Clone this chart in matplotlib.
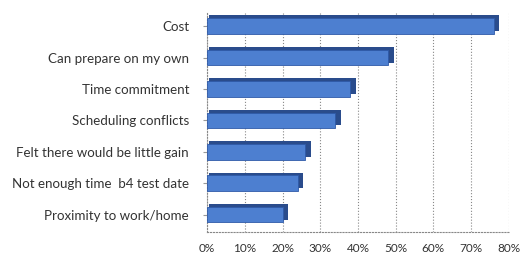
import matplotlib.pyplot as plt
from matplotlib.ticker import PercentFormatter

categories = ['Proximity to work/home', 'Not enough time  b4 test date',
              'Felt there would be little gain', 'Scheduling conflicts',
              'Time commitment', 'Can prepare on my own', 'Cost']
values = [20, 24, 26, 34, 38, 48, 76]
ticks = [0, 10, 20, 30, 40, 50, 60, 70, 80]

plt.rcParams['font.family'] = ['Lato', 'DejaVu Sans']

fig = plt.figure(figsize=(5.23, 2.6), dpi=100)
ax = fig.add_axes([0.396, 0.108, 0.577, 0.846])

ypos = list(range(len(categories)))
# darker side/top face to fake the 3D look
ax.barh([y + 0.09 for y in ypos], [v + 0.9 for v in values], height=0.5,
        left=0.6, color='#2a4c8c', zorder=2)
ax.barh(ypos, values, height=0.5, color='#4d7fd0', edgecolor='#2f5aa8',
        linewidth=0.6, zorder=3)

ax.set_xlim(0, 80)
ax.set_ylim(-0.55, 6.45)
ax.set_xticks(ticks)
ax.xaxis.set_major_formatter(PercentFormatter(decimals=0))
ax.set_yticks(ypos)
ax.set_yticklabels(categories, fontsize=9.6, color='#333333')
ax.tick_params(axis='x', labelsize=8.5, colors='#333333', length=0, pad=8)
ax.tick_params(axis='y', length=3, color='#999999', pad=10)

ax.grid(axis='x', linestyle=':', color='#888888', linewidth=0.8, zorder=0)
for s in ['top', 'right']:
    ax.spines[s].set_visible(False)
for s in ['left', 'bottom']:
    ax.spines[s].set_linestyle(':')
    ax.spines[s].set_color('#888888')

fig.savefig('out.png', dpi=100)
